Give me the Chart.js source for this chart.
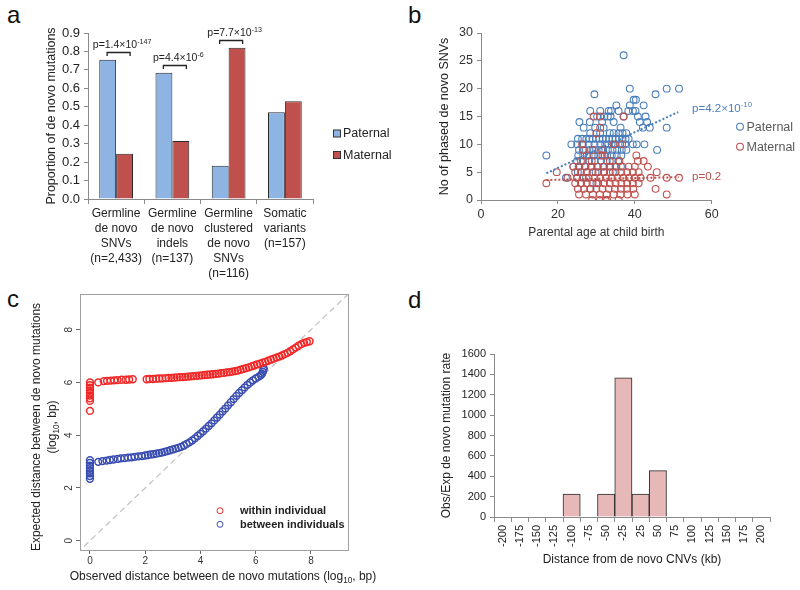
<!DOCTYPE html>
<html><head><meta charset="utf-8">
<script src="https://cdn.jsdelivr.net/npm/chart.js@4.4.1/dist/chart.umd.min.js"></script>
<style>
body{margin:0;background:#fff;width:800px;height:590px;position:relative;overflow:hidden;font-family:'Liberation Sans',Arial,sans-serif}
canvas{position:absolute}
.lbl{position:absolute;font-size:24px;line-height:24px;color:#111}
</style></head><body>
<div class="lbl" style="left:7px;top:3px">a</div>
<div class="lbl" style="left:408px;top:3px">b</div>
<div class="lbl" style="left:7px;top:287px">c</div>
<div class="lbl" style="left:408px;top:288px">d</div>
<canvas id="ca" width="420" height="295" style="left:0;top:0;width:420px;height:295px"></canvas>
<canvas id="cb" width="400" height="250" style="left:400px;top:0;width:400px;height:250px"></canvas>
<canvas id="cc" width="410" height="310" style="left:0;top:280px;width:410px;height:310px"></canvas>
<canvas id="cd" width="390" height="310" style="left:410px;top:280px;width:390px;height:310px"></canvas>
<script>
// ---------- DATA ----------
// Panel a
const aCategories = [['Germline','de novo','SNVs','(n=2,433)'],['Germline','de novo','indels','(n=137)'],['Germline','clustered','de novo','SNVs','(n=116)'],['Somatic','variants','(n=157)']];
const aPaternal = [0.755, 0.685, 0.18, 0.47];
const aMaternal = [0.245, 0.315, 0.82, 0.53];
const aPValues = [['1.4','-147'],['4.4','-6'],['7.7','-13']];
const aSeriesNames = ['Paternal','Maternal'];

// Panel b  [parental age, number of phased de novo SNVs]
const bPaternal = [
[37.1,26],[38.7,20],[48.3,20],[51.5,20],[29.5,19],[45.4,19],[39.7,18],[40.3,18],
[35.2,17],[38.7,17],[42.3,17],
[28.4,16],[31.0,16],[33.2,16],[33.8,16],[35.8,16],[38.3,16],[39.5,16],[40.2,16],
[30.2,15],[32.1,15],[33.0,15],[33.7,15],[37.1,15],[40.8,15],[42.8,15],
[25.6,14],[28.3,14],[31.5,14],[34.5,14],[41.3,14],[43.2,14],
[26.7,13],[29.7,13],[31.9,13],[36.3,13],[42.1,13],[43.9,13],[48.3,13],
[28.4,12],[31.0,12],[33.5,12],[34.5,12],[35.8,12],[36.8,12],[37.8,12],
[25.2,11],[26.3,11],[27.4,11],[28.2,11],[29.0,11],[29.9,11],[30.8,11],[31.7,11],[32.5,11],[33.3,11],[34.2,11],[35.0,11],[35.9,11],[36.8,11],[37.6,11],[38.4,11],
[23.5,10],[25.0,10],[26.5,10],[28.0,10],[29.5,10],[31.0,10],[32.3,10],[33.1,10],[34.0,10],[35.0,10],[36.2,10],[37.5,10],[39.5,10],[40.5,10],[42.5,10],
[25.5,9],[26.8,9],[28.2,9],[29.4,9],[30.6,9],[31.8,9],[33.0,9],[34.2,9],[35.4,9],[36.6,9],[37.8,9],[45.8,9],
[17.0,8],[25.3,8],[26.6,8],[28.0,8],[29.3,8],[30.5,8],[31.6,8],[32.8,8],[34.0,8],[35.3,8],[36.5,8],
[25.0,7],[26.5,7],[28.1,7],[29.6,7],[31.2,7],[32.7,7],[34.2,7],[35.7,7],
[24.0,6],[25.4,6],[27.0,6],[28.6,6],[30.2,6],[31.8,6],[33.4,6],[35.0,6],[36.4,6],
[25.2,5],[27.5,5],[29.8,5],[32.0,5],[34.3,5],
[22.1,4],[25.0,4],[27.3,4],[26.0,3],[30.0,3],[28.5,2]
];
const bMaternal = [
[29.3,15],[31.0,15],[37.1,15],[31.0,13],[30.0,12],
[26.3,10],[34.5,10],[36.7,10],[26.5,9],[29.0,9],[31.5,9],
[27.5,8],[31.2,8],[32.1,8],[40.4,8],
[26.0,7],[28.8,7],[33.5,7],[36.0,7],[40.8,7],[42.3,7],
[24.0,6],[25.6,6],[27.2,6],[28.8,6],[30.4,6],[32.0,6],[33.6,6],[35.2,6],[36.8,6],[38.4,6],[40.0,6],[43.4,6],
[19.7,5],[24.5,5],[26.0,5],[27.5,5],[29.0,5],[30.5,5],[32.0,5],[33.5,5],[35.0,5],[36.5,5],[38.0,5],[39.5,5],[41.0,5],[45.7,5],
[22.5,4],[25.0,4],[26.5,4],[28.0,4],[29.5,4],[31.0,4],[32.5,4],[34.0,4],[35.5,4],[37.0,4],[38.5,4],[40.0,4],[41.5,4],[44.1,4],[48.3,4],[51.5,4],
[17.0,3],[24.5,3],[26.0,3],[27.5,3],[29.0,3],[30.5,3],[32.0,3],[33.5,3],[35.0,3],[36.5,3],[38.0,3],[39.5,3],[41.0,3],
[25.2,2],[26.8,2],[28.4,2],[30.0,2],[31.6,2],[33.2,2],[34.8,2],[36.4,2],[38.0,2],[39.6,2],[45.4,2],
[25.5,1],[27.3,1],[29.1,1],[30.9,1],[32.7,1],[34.5,1],[36.3,1],[38.1,1],[40.0,1],[48.3,1],
[28.9,0],[30.9,0],[32.4,0],[32.8,0],[35.8,0]
];
const bPaternalTrend = [[17,4.8],[51.3,15.8]];
const bMaternalTrend = [[17,3.6],[51.5,4.1]];
const bPText = [['p=4.2×10','-10'],['p=0.2','']];
const bTicksX = [0,20,40,60];

// Panel c  [observed log10 distance, expected log10 distance]
const cWithin = [
[0,4.92],[0,5.3],[0,5.4],[0,5.5],[0,5.6],[0,5.7],[0,5.8],[0,5.9],[0,6.0],
[0.3,6.0],[0.5,6.05],[0.62,6.06],[0.75,6.07],[0.88,6.08],[1.0,6.09],[1.15,6.1],[1.3,6.1],[1.42,6.11],[1.55,6.12],
[2.05,6.12],[2.15,6.13],[2.28,6.13],[2.4,6.14],[2.5,6.15],[2.62,6.15],[2.75,6.16],[2.85,6.17],[2.95,6.17],[3.05,6.18],[3.15,6.19],[3.25,6.2],[3.35,6.2],[3.45,6.21],[3.55,6.22],[3.65,6.23],[3.75,6.24],[3.85,6.25],[3.95,6.26],[4.05,6.27],[4.15,6.28],[4.25,6.29],[4.35,6.3],[4.45,6.31],[4.55,6.32],[4.65,6.33],[4.75,6.35],[4.85,6.36],[4.95,6.38],[5.05,6.39],[5.15,6.41],[5.25,6.43],[5.35,6.45],[5.45,6.48],[5.55,6.51],[5.65,6.54],[5.75,6.57],[5.85,6.61],[5.95,6.64],[6.05,6.68],[6.15,6.71],[6.25,6.75],[6.35,6.78],[6.45,6.82],[6.55,6.86],[6.65,6.9],[6.75,6.94],[6.85,6.98],[6.95,7.02],[7.05,7.07],[7.15,7.12],[7.25,7.18],[7.35,7.25],[7.45,7.32],[7.55,7.39],[7.65,7.45],[7.75,7.5],[7.85,7.53],[7.95,7.56]
];
const cBetween = [
[0,2.35],[0,2.45],[0,2.55],[0,2.65],[0,2.75],[0,2.85],[0,2.95],[0,3.05],
[0.3,2.99],[0.45,3.02],[0.6,3.04],[0.72,3.06],[0.85,3.08],[1.0,3.1],[1.12,3.12],[1.25,3.13],[1.38,3.15],[1.5,3.16],[1.62,3.18],[1.75,3.2],[1.88,3.21],[2.0,3.23],[2.1,3.25],[2.2,3.27],[2.3,3.28],[2.4,3.3],[2.5,3.32],[2.6,3.34],[2.7,3.37],[2.8,3.4],[2.9,3.43],[3.0,3.46],[3.1,3.49],[3.2,3.52],[3.3,3.56],[3.4,3.61],[3.5,3.67],[3.6,3.73],[3.7,3.8],[3.8,3.88],[3.9,3.97],[4.0,4.06],[4.1,4.15],[4.2,4.25],[4.3,4.35],[4.4,4.45],[4.5,4.56],[4.6,4.67],[4.7,4.78],[4.8,4.9],[4.9,5.01],[5.0,5.13],[5.1,5.25],[5.2,5.37],[5.3,5.49],[5.4,5.6],[5.5,5.71],[5.6,5.81],[5.7,5.91],[5.8,6.0],[5.9,6.08],[6.0,6.15],[6.1,6.21],[6.18,6.27],[6.23,6.33],[6.26,6.4],[6.28,6.47],[6.29,6.53]
];
const cIdentity = [[-1,-1],[10,10]];
const cTicks = [0,2,4,6,8];
const cLegend = ['within individual','between individuals'];

// Panel d
const dLabels = ['-200','-175','-150','-125','-100','-75','-50','-25','25','50','75','100','125','150','175','200'];
const dValues = [0,0,0,0,225,0,225,1365,225,455,0,0,0,0,0,0];

// ---------- STYLE / HELPERS ----------
const FF = "'Liberation Sans', Arial, Helvetica, sans-serif";
Chart.defaults.font.family = FF;
Chart.defaults.color = '#222';
Chart.defaults.animation = false;
Chart.defaults.events = [];
Chart.defaults.plugins.legend.display = false;
Chart.defaults.plugins.tooltip.enabled = false;
const AX = '#8a8a8a';
const toXY = arr => arr.map(p => ({x:p[0], y:p[1]}));

function drawRich(ctx, segs, x, y, size, color, align, weight){
  const w = weight || 'normal';
  const fontOf = m => `${w} ${m==='n' ? size : size*0.68}px ${FF}`;
  let total = 0;
  segs.forEach(s => { ctx.font = fontOf(s[1]); total += ctx.measureText(s[0]).width; });
  let cx = align === 'center' ? x - total/2 : x;
  ctx.fillStyle = color; ctx.textAlign = 'left'; ctx.textBaseline = 'alphabetic';
  segs.forEach(s => {
    ctx.font = fontOf(s[1]);
    const dy = s[1]==='sup' ? -size*0.4 : (s[1]==='sub' ? size*0.22 : 0);
    ctx.fillText(s[0], cx, y + dy);
    cx += ctx.measureText(s[0]).width;
  });
}

// ---------- PANEL A ----------
const aPlugin = {id:'aPlug', afterDraw(chart){
  const {ctx, scales:{x, y}} = chart;
  ctx.save();
  aPValues.forEach((p, i) => {
    const xc = x.getPixelForValue(i);
    const yb = Math.round(y.getPixelForValue(Math.max(aPaternal[i], aMaternal[i]) + 0.043)) + 0.5;
    ctx.strokeStyle = '#222'; ctx.lineWidth = 1.3;
    ctx.beginPath(); ctx.moveTo(xc-9, yb+3.5); ctx.lineTo(xc-9, yb); ctx.lineTo(xc+14, yb); ctx.lineTo(xc+14, yb+3.5); ctx.stroke();
    drawRich(ctx, [['p='+p[0]+'×10','n'],[p[1],'sup']], xc+6, yb-4.5, 10.5, '#222', 'center');
  });
  const cols = ['#8EB4E3','#C0504D'];
  aSeriesNames.forEach((n, i) => {
    const yy = 133.5 + i*21.5;
    ctx.fillStyle = cols[i]; ctx.fillRect(333.5, yy-3.5, 7, 7);
    ctx.strokeStyle = '#333'; ctx.lineWidth = 1; ctx.strokeRect(333.5, yy-3.5, 7, 7);
    ctx.fillStyle = '#222'; ctx.font = '12.5px '+FF; ctx.textAlign='left'; ctx.textBaseline='middle';
    ctx.fillText(n, 343, yy+0.5);
  });
  ctx.restore();
}};
new Chart(document.getElementById('ca'), {
  type:'bar',
  data:{labels:aCategories, datasets:[
    {label:aSeriesNames[0], data:aPaternal, backgroundColor:'#8EB4E3', borderColor:'#2a2a2a', borderWidth:1},
    {label:aSeriesNames[1], data:aMaternal, backgroundColor:'#C0504D', borderColor:'#2a2a2a', borderWidth:1}]},
  options:{responsive:false, maintainAspectRatio:false,
    layout:{padding:{left:40, top:33, right:107, bottom:0}},
    datasets:{bar:{categoryPercentage:0.6, barPercentage:1}},
    scales:{
      x:{grid:{drawOnChartArea:false, tickLength:5, color:AX, offset:true}, border:{color:AX},
         ticks:{font:{size:12, lineHeight:1.25}, padding:2, color:'#222', maxRotation:0, autoSkip:false},
         afterFit:s=>{s.height=96;}},
      y:{min:0, max:0.9, ticks:{stepSize:0.1, autoSkip:false, callback:v=>v.toFixed(1), font:{size:13}, padding:4, color:'#222'},
         grid:{drawOnChartArea:false, tickLength:4, color:AX}, border:{color:AX},
         title:{display:true, text:'Proportion of de novo mutations', font:{size:12.5}, color:'#222', padding:{top:4,bottom:4}},
         afterFit:s=>{s.width=48;}}
    }},
  plugins:[aPlugin]
});

// ---------- PANEL B ----------
const BBLUE = '#4A7EBB', BRED = '#C0504D';
const bPlugin = {id:'bPlug', afterDraw(chart){
  const {ctx, scales:{x, y}} = chart;
  ctx.save();
  drawRich(ctx, [[bPText[0][0],'n'],[bPText[0][1],'sup']], x.getPixelForValue(54.9), y.getPixelForValue(16.6)+4, 11.5, BBLUE, 'left');
  drawRich(ctx, [[bPText[1][0],'n']], x.getPixelForValue(54.9), y.getPixelForValue(4.4)+4, 11.5, BRED, 'left');
  const items = [['Paternal',BBLUE],['Maternal',BRED]];
  items.forEach((it, i) => {
    const yy = 126.7 + i*20;
    ctx.strokeStyle = it[1]; ctx.lineWidth = 1.1;
    ctx.beginPath(); ctx.arc(340, yy, 3.4, 0, Math.PI*2); ctx.stroke();
    ctx.fillStyle = '#595959'; ctx.font = '12.5px '+FF; ctx.textAlign='left'; ctx.textBaseline='middle';
    ctx.fillText(it[0], 346.5, yy+0.5);
  });
  ctx.restore();
}};
new Chart(document.getElementById('cb'), {
  type:'scatter',
  data:{datasets:[
    {type:'line', data:toXY(bPaternalTrend), borderColor:BBLUE, borderWidth:2, borderDash:[2,2], pointRadius:0, order:0},
    {type:'line', data:toXY(bMaternalTrend), borderColor:BRED, borderWidth:2, borderDash:[2,2], pointRadius:0, order:0},
    {label:'Maternal', data:toXY(bMaternal), borderColor:BRED, backgroundColor:'rgba(0,0,0,0)', pointRadius:3.4, borderWidth:1.1, order:1},
    {label:'Paternal', data:toXY(bPaternal), borderColor:BBLUE, backgroundColor:'rgba(0,0,0,0)', pointRadius:3.4, borderWidth:1.1, order:2}
  ]},
  options:{responsive:false, maintainAspectRatio:false,
    layout:{padding:{left:33, top:33, right:88.3, bottom:0}},
    scales:{
      x:{type:'linear', min:0, max:60, afterBuildTicks:s=>{s.ticks=bTicksX.map(v=>({value:v}));},
         ticks:{font:{size:12.5}, padding:3, color:'#333'},
         grid:{drawOnChartArea:false, tickLength:4, color:AX}, border:{color:AX},
         title:{display:true, text:'Parental age at child birth', font:{size:12}, color:'#333', padding:{top:2,bottom:10}},
         afterFit:s=>{s.height=50;}},
      y:{min:0, max:30, ticks:{stepSize:5, font:{size:12.5}, padding:4, color:'#333'},
         grid:{drawOnChartArea:false, tickLength:4, color:AX}, border:{color:AX},
         title:{display:true, text:'No of phased de novo SNVs', font:{size:12.5}, color:'#222', padding:{top:4,bottom:4}},
         afterFit:s=>{s.width=48;}}
    }},
  plugins:[bPlugin]
});

// ---------- PANEL C ----------
const CRED = 'rgb(240,40,40)', CBLUE = '#3A4DB0';
const cPlugin = {id:'cPlug', afterDraw(chart){
  const {ctx, chartArea:ca, scales:{x, y}} = chart;
  ctx.save();
  ctx.strokeStyle = '#a0a0a0'; ctx.lineWidth = 1;
  ctx.strokeRect(Math.round(ca.left)+0.5, Math.round(ca.top)+0.5, Math.round(ca.right-ca.left), Math.round(ca.bottom-ca.top));
  ctx.fillStyle = '#333'; ctx.font = '10px '+FF; ctx.textAlign='center'; ctx.textBaseline='middle';
  cTicks.forEach(v => {
    ctx.save(); ctx.translate(69, y.getPixelForValue(v)); ctx.rotate(-Math.PI/2); ctx.fillText(String(v), 0, 0); ctx.restore();
  });
  drawRich(ctx, [['Observed distance between de novo mutations (log','n'],['10','sub'],[', bp)','n']], 223, 300, 12, '#222', 'center');
  ctx.save(); ctx.translate(39.5, 147); ctx.rotate(-Math.PI/2);
  drawRich(ctx, [['Expected distance between de novo mutations','n']], 0, 0, 12, '#222', 'center');
  ctx.restore();
  ctx.save(); ctx.translate(56, 147); ctx.rotate(-Math.PI/2);
  drawRich(ctx, [['(log','n'],['10','sub'],[', bp)','n']], 0, 0, 12, '#222', 'center');
  ctx.restore();
  const cols = [CRED, CBLUE];
  cLegend.forEach((t, i) => {
    const yy = 230.7 + i*13.6;
    ctx.strokeStyle = cols[i]; ctx.lineWidth = 1;
    ctx.beginPath(); ctx.arc(220, yy, 3, 0, Math.PI*2); ctx.stroke();
    ctx.fillStyle = '#222'; ctx.font = 'bold 11px '+FF; ctx.textAlign='left'; ctx.textBaseline='middle';
    ctx.fillText(t, 240, yy+0.5);
  });
  ctx.restore();
}};
new Chart(document.getElementById('cc'), {
  type:'scatter',
  data:{datasets:[
    {label:'within individual', data:toXY(cWithin), borderColor:CRED, backgroundColor:'rgba(0,0,0,0)', pointRadius:3.4, borderWidth:1.5, order:1},
    {label:'between individuals', data:toXY(cBetween), borderColor:CBLUE, backgroundColor:'rgba(0,0,0,0)', pointRadius:3.4, borderWidth:1.5, order:2},
    {type:'line', data:toXY(cIdentity), borderColor:'#c4c4c4', borderWidth:1.3, borderDash:[6,4], pointRadius:0, order:3}
  ]},
  options:{responsive:false, maintainAspectRatio:false,
    layout:{padding:{left:0, top:14, right:62, bottom:0}},
    scales:{
      x:{type:'linear', min:-0.36, max:9.34, afterBuildTicks:s=>{s.ticks=cTicks.map(v=>({value:v}));},
         ticks:{font:{size:10}, padding:1, color:'#333', maxRotation:0},
         grid:{drawOnChartArea:false, tickLength:4, color:'#666'}, border:{display:false},
         afterFit:s=>{s.height=40;}},
      y:{type:'linear', min:-0.35, max:9.35, afterBuildTicks:s=>{s.ticks=cTicks.map(v=>({value:v}));},
         ticks:{display:false},
         grid:{drawOnChartArea:false, tickLength:4, color:'#666'}, border:{display:false},
         afterFit:s=>{s.width=80;}}
    }},
  plugins:[cPlugin]
});

// ---------- PANEL D ----------
new Chart(document.getElementById('cd'), {
  type:'bar',
  data:{labels:dLabels, datasets:[{data:dValues, backgroundColor:'#E6B9B8', borderColor:'#2b2b2b', borderWidth:1, barPercentage:1, categoryPercentage:1}]},
  options:{responsive:false, maintainAspectRatio:false,
    layout:{padding:{left:25, top:74, right:30, bottom:0}},
    scales:{
      x:{grid:{drawOnChartArea:false, tickLength:5, color:AX, offset:true}, border:{color:AX},
         ticks:{minRotation:90, maxRotation:90, font:{size:11}, padding:3, autoSkip:false, color:'#222'},
         title:{display:true, text:'Distance from de novo CNVs (kb)', font:{size:12}, color:'#222', padding:{top:4,bottom:22.8}},
         afterFit:s=>{s.height=73;}},
      y:{min:0, max:1600, ticks:{stepSize:200, autoSkip:false, callback:v=>String(v), font:{size:11}, padding:4, color:'#222'},
         grid:{drawOnChartArea:false, tickLength:4, color:AX}, border:{color:AX},
         title:{display:true, text:'Obs/Exp de novo mutation rate', font:{size:12}, color:'#222', padding:{top:4,bottom:4}},
         afterFit:s=>{s.width=59;}}
    }}
});
</script>
</body></html>
